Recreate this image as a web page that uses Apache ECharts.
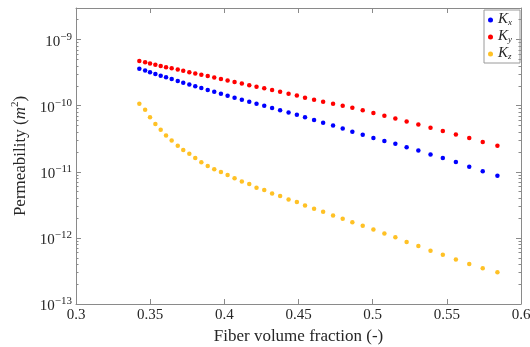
<!DOCTYPE html>
<html>
<head>
<meta charset="utf-8">
<script src="https://cdn.jsdelivr.net/npm/echarts@6/dist/echarts.min.js"></script>
<style>html,body{margin:0;padding:0;background:#fff}#c{width:530px;height:347px}</style>
</head>
<body>
<div id="c"></div>
<script>
const fiberFraction = [0.3427,0.3466,0.3499,0.3535,0.3571,0.3607,0.3645,0.3686,0.3723,0.3764,0.3804,0.3845,0.3888,0.3932,0.3977,0.4022,0.4069,0.4118,0.4168,0.4217,0.4269,0.4322,0.4376,0.4433,0.4489,0.4544,0.4605,0.4666,0.4733,0.4798,0.4863,0.4933,0.5005,0.5079,0.5153,0.5229,0.5308,0.5390,0.5473,0.5561,0.5651,0.5742,0.5841];
const Kx = [3.63e-10,3.40e-10,3.20e-10,3.02e-10,2.84e-10,2.68e-10,2.52e-10,2.36e-10,2.23e-10,2.09e-10,1.97e-10,1.85e-10,1.73e-10,1.62e-10,1.51e-10,1.41e-10,1.32e-10,1.23e-10,1.15e-10,1.07e-10,9.93e-11,9.20e-11,8.52e-11,7.86e-11,7.26e-11,6.65e-11,6.05e-11,5.53e-11,5.03e-11,4.53e-11,4.04e-11,3.64e-11,3.23e-11,2.91e-11,2.66e-11,2.34e-11,2.09e-11,1.83e-11,1.61e-11,1.40e-11,1.19e-11,1.02e-11,8.73e-12];
const Ky = [4.73e-10,4.52e-10,4.34e-10,4.16e-10,3.99e-10,3.82e-10,3.67e-10,3.51e-10,3.36e-10,3.21e-10,3.07e-10,2.93e-10,2.80e-10,2.66e-10,2.53e-10,2.41e-10,2.28e-10,2.16e-10,2.04e-10,1.93e-10,1.83e-10,1.72e-10,1.62e-10,1.52e-10,1.42e-10,1.32e-10,1.23e-10,1.15e-10,1.07e-10,1.00e-10,9.29e-11,8.52e-11,7.75e-11,7.03e-11,6.38e-11,5.77e-11,5.18e-11,4.63e-11,4.13e-11,3.67e-11,3.23e-11,2.83e-11,2.48e-11];
const Kz = [1.07e-10,8.64e-11,6.65e-11,5.30e-11,4.34e-11,3.55e-11,2.96e-11,2.48e-11,2.13e-11,1.87e-11,1.61e-11,1.39e-11,1.22e-11,1.09e-11,9.90e-12,8.91e-12,7.95e-12,7.11e-12,6.51e-12,5.75e-12,5.28e-12,4.71e-12,4.29e-12,3.82e-12,3.48e-12,3.09e-12,2.77e-12,2.49e-12,2.19e-12,1.95e-12,1.72e-12,1.53e-12,1.34e-12,1.16e-12,1.02e-12,8.64e-13,7.51e-13,6.40e-13,5.57e-13,4.73e-13,4.01e-13,3.46e-13,3.01e-13];
const seriesNames = ['Kx','Ky','Kz'];
const seriesSubs = ['x','y','z'];
const seriesColors = ['#0000ff','#ff0000','#ffc125'];
const xTickMin = 0.3, xTickMax = 0.6, xTickStep = 0.05;
const yMin = 1e-13, yMax = 3e-9;
const yDecades = [-13,-12,-11,-10,-9];
const minorMultipliers = [2,3,4,5,6,7,8,9];

const FONT = '"Liberation Serif", "DejaVu Serif", serif';
const AXC = '#8a8a8a';
const TXT = '#262626';

function pairs(ys){ return fiberFraction.map((x,i)=>[x, ys[i]]); }
const allY = [Kx, Ky, Kz];
const minorValues = [];
yDecades.forEach(e => minorMultipliers.forEach(m => { const v = m * Math.pow(10, e); if (v < yMax) minorValues.push(v); }));

const chart = echarts.init(document.getElementById('c'), null, {renderer:'canvas'});
const supRich = {
  b:{fontFamily:FONT, fontSize:15, color:TXT, lineHeight:20, verticalAlign:'bottom'},
  s:{fontFamily:FONT, fontSize:11, color:TXT, lineHeight:20, verticalAlign:'bottom', padding:[0,0,7,0]}
};
function yLabel(v){
  const e = Math.log10(v);
  const r = Math.round(e);
  if (Math.abs(e - r) > 1e-6) return '';
  return '{b|10}{s|' + (r < 0 ? '\u2212' + (-r) : r) + '}';
}
const xAxisCommon = {
  type:'value', min:xTickMin, max:xTickMax, interval:xTickStep,
  axisLine:{show:true, lineStyle:{color:AXC, width:1}},
  axisTick:{show:true, inside:true, length:5, lineStyle:{color:AXC}},
  splitLine:{show:false}
};
const yAxisCommon = {
  type:'log', logBase:10, min:yMin, max:yMax,
  axisLine:{show:true, lineStyle:{color:AXC, width:1}},
  axisTick:{show:true, inside:true, length:5, lineStyle:{color:AXC}},
  splitLine:{show:false}
};
const yMinorAxis = {
  type:'log', logBase:10, min:yMin, max:yMax,
  axisLine:{show:false},
  axisLabel:{show:false},
  axisTick:{show:true, inside:true, length:2.5, lineStyle:{color:AXC}, customValues:minorValues},
  splitLine:{show:false}
};
chart.setOption({
  animation:false,
  backgroundColor:'#fff',
  grid:{left:76, right:9, top:8, bottom:43, containLabel:false, outerBoundsMode:'none'},
  legend:{
    orient:'vertical', right:10, top:10,
    data:seriesNames,
    icon:'circle', itemWidth:5, itemHeight:5, itemGap:2,
    borderColor:'#9a9a9a', borderWidth:1, borderRadius:0,
    padding:[2,8,2,4],
    formatter:function(n){ const i = seriesNames.indexOf(n); return '{k|K}{sub|' + seriesSubs[i] + '}'; },
    textStyle:{
      fontFamily:FONT, color:TXT, lineHeight:14,
      rich:{
        k:{fontFamily:FONT, fontStyle:'italic', fontSize:15, color:TXT, lineHeight:14, verticalAlign:'bottom'},
        sub:{fontFamily:FONT, fontStyle:'italic', fontSize:9, color:TXT, lineHeight:14, verticalAlign:'bottom'}
      }
    }
  },
  xAxis:[
    Object.assign({}, xAxisCommon, {
      position:'bottom',
      name:'Fiber volume fraction (-)', nameLocation:'middle', nameGap:21,
      nameTextStyle:{fontFamily:FONT, fontSize:17, color:TXT},
      axisLabel:{show:true, margin:4, fontFamily:FONT, fontSize:15, color:TXT,
        formatter:function(v){ return String(+v.toFixed(2)); }}
    }),
    Object.assign({}, xAxisCommon, {position:'top', axisLabel:{show:false}})
  ],
  yAxis:[
    Object.assign({}, yAxisCommon, {
      position:'left',
      name:'{a|Permeability (}{i|m}{s|2}{a|)}', nameLocation:'middle', nameGap:43, nameRotate:90,
      nameTextStyle:{
        fontFamily:FONT, fontSize:17, color:TXT,
        rich:{
          a:{fontFamily:FONT, fontSize:17, color:TXT, lineHeight:20, verticalAlign:'bottom'},
          i:{fontFamily:FONT, fontSize:17, fontStyle:'italic', color:TXT, lineHeight:20, verticalAlign:'bottom'},
          s:{fontFamily:FONT, fontSize:11, color:TXT, lineHeight:20, verticalAlign:'bottom', padding:[0,0,8,0]}
        }
      },
      axisLabel:{show:true, margin:4, formatter:yLabel, rich:supRich, showMinLabel:true, showMaxLabel:true}
    }),
    Object.assign({}, yAxisCommon, {position:'right', axisLabel:{show:false}}),
    Object.assign({}, yMinorAxis, {position:'left', offset:0}),
    Object.assign({}, yMinorAxis, {position:'right', offset:0})
  ],
  series: seriesNames.map((n,i)=>({
    name:n, type:'scatter', xAxisIndex:0, yAxisIndex:0,
    symbol:'circle', symbolSize:4.5,
    itemStyle:{color:seriesColors[i], opacity:1},
    data:pairs(allY[i])
  }))
});
</script>
</body>
</html>
